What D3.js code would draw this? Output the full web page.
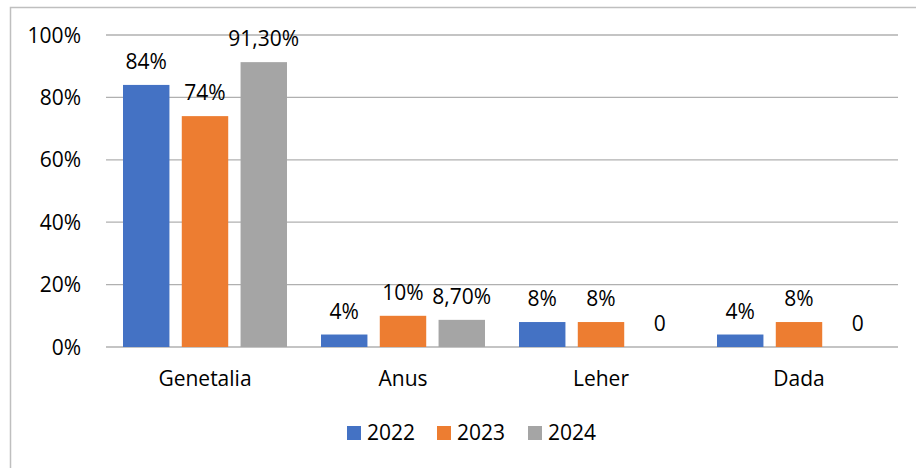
<!DOCTYPE html>
<html>
<head>
<meta charset="utf-8">
<script src="https://cdn.jsdelivr.net/npm/d3@7"></script>
<style>
  body { margin: 0; background: #fff; }
  svg { font-family: "Open Sans", "Noto Sans", sans-serif; }
</style>
</head>
<body>
<div id="chart"></div>
<script>
const categories = ["Genetalia", "Anus", "Leher", "Dada"];
const years = ["2022", "2023", "2024"];
const values2022 = [84, 4, 8, 4];
const values2023 = [74, 10, 8, 8];
const values2024 = [91.3, 8.7, 0, 0];
const labels2022 = ["84%", "4%", "8%", "4%"];
const labels2023 = ["74%", "10%", "8%", "8%"];
const labels2024 = ["91,30%", "8,70%", "0", "0"];
const yTicks = [0, 20, 40, 60, 80, 100];
const colors = ["#4472C4", "#ED7D31", "#A5A5A5"];

const width = 916, height = 468;
const fontSize = 21;

const seriesValues = [values2022, values2023, values2024];
const seriesLabels = [labels2022, labels2023, labels2024];

const svg = d3.select("#chart").append("svg")
    .attr("width", width)
    .attr("height", height);

// chart frame
svg.append("rect")
    .attr("x", 10.5).attr("y", 7.5)
    .attr("width", width).attr("height", height)
    .attr("fill", "none")
    .attr("stroke", "#bfbfbf")
    .attr("stroke-width", 1.5);

const x0 = d3.scaleBand()
    .domain(categories)
    .range([106, 898]);

const x1 = d3.scaleBand()
    .domain(years)
    .range([17, x0.bandwidth() - 17])
    .paddingInner(0.21);

const y = d3.scaleLinear()
    .domain([0, 100])
    .range([347, 35]);

// gridlines
svg.append("g")
  .selectAll("line")
  .data(yTicks)
  .enter().append("line")
    .attr("x1", 106).attr("x2", 898)
    .attr("y1", d => y(d)).attr("y2", d => y(d))
    .attr("stroke", "#b0b0b0")
    .attr("stroke-width", 1.3);

// y tick labels
svg.append("g")
  .selectAll("text")
  .data(yTicks)
  .enter().append("text")
    .attr("x", 81)
    .attr("y", d => y(d))
    .attr("dy", "0.36em")
    .attr("text-anchor", "end")
    .attr("font-size", fontSize)
    .attr("fill", "#000")
    .text(d => d + "%");

// bars
const groups = svg.append("g")
  .selectAll("g")
  .data(categories)
  .enter().append("g")
    .attr("transform", d => "translate(" + x0(d) + ",0)");

groups.selectAll("rect")
    .data((d, i) => years.map((yr, j) => ({ year: yr, value: seriesValues[j][i], color: colors[j] })))
  .enter().append("rect")
    .attr("x", d => x1(d.year))
    .attr("y", d => y(d.value))
    .attr("width", x1.bandwidth())
    .attr("height", d => y(0) - y(d.value))
    .attr("fill", d => d.color);

groups.selectAll("text")
    .data((d, i) => years.map((yr, j) => ({ year: yr, value: seriesValues[j][i], label: seriesLabels[j][i] })))
  .enter().append("text")
    .attr("x", d => x1(d.year) + x1.bandwidth() / 2)
    .attr("y", d => y(d.value) - 16)
    .attr("text-anchor", "middle")
    .attr("font-size", fontSize)
    .attr("fill", "#000")
    .text(d => d.label);

// category labels
svg.append("g")
  .selectAll("text")
  .data(categories)
  .enter().append("text")
    .attr("x", d => x0(d) + x0.bandwidth() / 2)
    .attr("y", 386)
    .attr("text-anchor", "middle")
    .attr("font-size", fontSize)
    .attr("fill", "#000")
    .text(d => d);

// legend
const legendX = [347, 437, 528];
const legend = svg.append("g")
  .selectAll("g")
  .data(years)
  .enter().append("g")
    .attr("transform", (d, i) => "translate(" + legendX[i] + ",426)");

legend.append("rect")
    .attr("width", 14).attr("height", 14)
    .attr("fill", (d, i) => colors[i]);

legend.append("text")
    .attr("x", 20)
    .attr("y", 14)
    .attr("font-size", fontSize)
    .attr("fill", "#000")
    .text(d => d);
</script>
</body>
</html>
